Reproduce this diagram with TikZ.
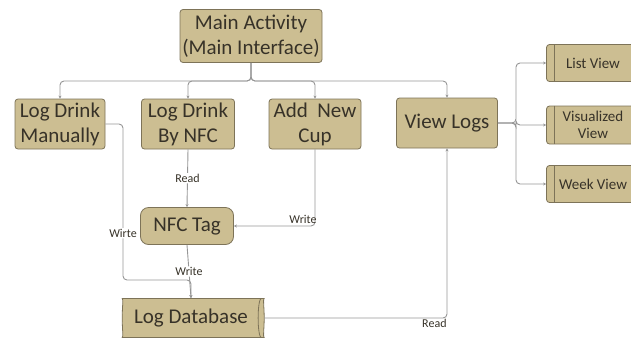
\documentclass[tikz,border=0pt]{standalone}
\usepackage{fontspec}
\setmainfont{Carlito}
\usetikzlibrary{arrows.meta,shapes.geometric}
\definecolor{boxfill}{RGB}{204,190,146}
\definecolor{boxedge}{RGB}{125,115,88}
\definecolor{linkgray}{RGB}{150,150,150}
\definecolor{txtdark}{RGB}{55,50,40}
\tikzset{
    box/.style={
        draw=boxedge, fill=boxfill, rounded corners=3pt, line width=0.8pt,
        align=center, text=txtdark, inner sep=1pt,
        font=\fontsize{21}{25}\selectfont
    },
    viewbox/.style={
        box, minimum width=93pt, font=\fontsize{15}{17}\selectfont
    },
    link/.style={
        draw=linkgray, line width=0.9pt, rounded corners=4pt,
        -{Stealth[length=3pt,width=3pt]}
    },
    lbl/.style={
        fill=white, inner sep=1pt, text=txtdark,
        font=\fontsize{12}{14}\selectfont
    }
}

\begin{document}
\begin{tikzpicture}[x=1pt, y=-1pt]
\useasboundingbox (0,0) rectangle (631,338);

% top level
\node [box, minimum width=142pt, minimum height=53pt] (main) at (251,36)
  {Main Activity\\(Main Interface)};

% second row
\node [box, minimum width=90pt, minimum height=50pt] (manual) at (60,124)
  {Log Drink\\Manually};
\node [box, minimum width=93pt, minimum height=50pt] (bynfc) at (188,124)
  {Log Drink\\By NFC};
\node [box, minimum width=92pt, minimum height=50pt] (addcup) at (315,124)
  {Add\ \ New\\Cup};
\node [box, minimum width=101pt, minimum height=50pt] (viewlogs) at (447,123)
  {View Logs};

% views (cut by the right border)
\foreach \name/\y/\h/\txt in {listv/63/37/List View,
                              visv/125/38/Visualized\\View,
                              weekv/184/37/Week View} {
  \node [viewbox, minimum height=\h pt] (\name) at (593,\y) {\txt};
  \draw [boxedge, line width=0.6pt] ([xshift=8pt]\name.north west)
    -- ([xshift=8pt]\name.south west);
}

% storage
\node [box, rounded corners=8pt, minimum width=93pt, minimum height=37pt]
  (nfctag) at (187,226) {NFC Tag};
\node [box, shape=cylinder, shape border rotate=0, aspect=0.3,
       minimum width=39pt, minimum height=142pt] (logdb) at (191,318) {Log Database};

% bus from the main activity
\coordinate (bus) at (251,81);
\foreach \n in {manual,bynfc,addcup,viewlogs}
  \draw [link] (main.south) -- (main.south |- bus) -| (\n.north);

% branches of view logs
\coordinate (vbr) at (516,123);
\foreach \n in {listv,visv,weekv}
  \draw [link] (viewlogs.east) -- (vbr) |- (\n.west);

% reads and writes
\draw [link] (bynfc.south) -- node [lbl] {Read} (nfctag.north);
\draw [link] (addcup.south) |- node [lbl, pos=0.5, anchor=south east,
  fill=none, xshift=3pt, yshift=1pt] {Write} (nfctag.east);
\coordinate (mbend) at (123,280);
\draw [link] (manual.east) -| (mbend) node [lbl, pos=0.85] {Wirte} -| (logdb.north);
\draw [link] (nfctag.south) -- node [lbl] {Write} (logdb.north);
\draw [link] (logdb.east) -| node [lbl, pos=0.5, anchor=north east,
  fill=none, xshift=1pt] {Read} (viewlogs.south);

\end{tikzpicture}
\end{document}
